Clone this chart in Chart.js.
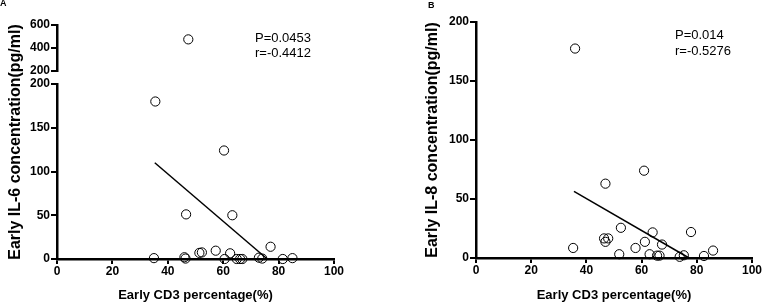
<!DOCTYPE html>
<html>
<head>
<meta charset="utf-8">
<script src="https://cdn.jsdelivr.net/npm/chart.js@4/dist/chart.umd.min.js"></script>
<style>
	html, body { margin: 0; padding: 0; background: #fff; }
	#wrap { position: relative; width: 762px; height: 303px; }
	.panel { position: absolute; top: 0; width: 381px; height: 303px; }
	#pa { left: 0; }
	#pb { left: 381px; }
</style>
</head>
<body>
<div id="wrap">
	<div class="panel" id="pa"><canvas id="chartA" width="381" height="303"></canvas></div>
	<div class="panel" id="pb"><canvas id="chartB" width="381" height="303"></canvas></div>
</div>
<script>
// Panel A: early CD3 % vs early IL-6 (pg/ml)
const cd3A = [35.0, 35.5, 46.0, 46.4, 46.6, 47.4, 51.4, 52.3, 57.3, 60.3, 60.5,
	62.5, 63.3, 64.9, 66.1, 66.9, 72.9, 74.1, 77.1, 81.5, 85.0];
const il6 = [1, 180, 2, 0.5, 51, 475, 7, 7.5, 9.5, 124, 0,
	6.5, 50, 0, 0, 0, 1.5, 0.5, 14, 0, 1];
const fitA_x = [35.3, 75.9];
const fitA_y = [110, 0];
const statsA = ["P=0.0453", "r=-0.4412"];

// Panel B: early CD3 % vs early IL-8 (pg/ml)
const cd3B = [35.2, 35.9, 46.4, 46.9, 46.9, 47.9, 51.9, 52.5, 57.8, 60.9, 61.2,
	62.9, 64.0, 65.6, 66.5, 67.4, 73.8, 75.3, 77.9, 82.6, 85.9];
const il8 = [8.5, 177.5, 16.6, 13.7, 63, 16.6, 3.2, 25.6, 8.5, 74, 13.7,
	3.2, 21.7, 2, 2, 11.4, 1, 2.3, 22, 1.7, 6.3];
const fitB_x = [35.5, 77.2];
const fitB_y = [56.4, 0];
const statsB = ["P=0.014", "r=-0.5276"];

const xTicks = [0, 20, 40, 60, 80, 100];
const yTicksLow = [0, 50, 100, 150, 200];
const yTicksHigh = [200, 400, 600];

const xTitle = "Early CD3 percentage(%)";
const yTitleA = "Early IL-6 concentration(pg/ml)";
const yTitleB = "Early IL-8 concentration(pg/ml)";

const FAMILY = '"Liberation Sans", Arial, Helvetica, sans-serif';

function pts(xs, ys, keep) {
	let out = [];
	xs.forEach((x, i) => {
		if (keep(ys[i])) out.push({ x: x, y: ys[i] });
	});
	return out;
}

function circles(data, axis) {
	let ds = {
		data: data,
		pointRadius: 4.6,
		pointBorderWidth: 1,
		pointBorderColor: "#000",
		pointBackgroundColor: "rgba(0,0,0,0)",
		showLine: false,
		clip: false,
	};
	if (axis) ds.yAxisID = axis;
	return ds;
}

function fitLine(xs, ys) {
	return {
		data: xs.map((x, i) => ({ x: x, y: ys[i] })),
		showLine: true,
		borderColor: "#000",
		borderWidth: 1.5,
		pointRadius: 0,
		clip: false,
	};
}

function valueAxis(ticks, extra) {
	return Object.assign({
		min: ticks[0],
		max: ticks[ticks.length - 1],
		ticks: { stepSize: ticks[1] - ticks[0], autoSkip: false, color: "#000", padding: 1, font: { family: FAMILY, size: 12, weight: "bold" } },
		grid: { drawOnChartArea: false, color: "#000", lineWidth: 2, tickLength: 6 },
		border: { color: "#000", width: 2.5 },
	}, extra);
}

function xAxis(height) {
	return {
		min: xTicks[0],
		max: xTicks[xTicks.length - 1],
		ticks: { stepSize: xTicks[1] - xTicks[0], autoSkip: false, maxRotation: 0, color: "#000", padding: 0, font: { family: FAMILY, size: 12, weight: "bold" } },
		grid: { drawOnChartArea: false, color: "#000", lineWidth: 2, tickLength: 5 },
		border: { color: "#000", width: 2.5 },
		title: { display: true, text: xTitle, color: "#000", padding: { top: 0, bottom: 0 }, font: { family: FAMILY, size: 13, weight: "bold" } },
		afterFit: (s) => { s.height = height; },
	};
}

// panel letter + P / r annotation
const panelText = {
	id: "panelText",
	beforeDraw(chart) {
		// make sure grid/border positions come from the final layout
		Object.values(chart.scales).forEach((s) => { s._gridLineItems = null; });
	},
	afterDraw(chart, args, o) {
		let ctx = chart.ctx;
		ctx.save();
		ctx.fillStyle = "#000";
		ctx.textAlign = "left";
		ctx.textBaseline = "middle";
		ctx.font = "bold 9px " + FAMILY;
		ctx.fillText(o.letter, o.letterX, o.letterY);
		ctx.font = "13px " + FAMILY;
		o.lines.forEach((t, i) => ctx.fillText(t, o.textX, o.textY + i * o.gap));
		ctx.restore();
	},
};

new Chart(document.getElementById("chartA"), {
	type: "scatter",
	data: {
		datasets: [
			circles(pts(cd3A, il6, (v) => v <= 200)),
			circles(pts(cd3A, il6, (v) => v > 200), "y2"),
			fitLine(fitA_x, fitA_y),
		],
	},
	options: {
		responsive: false,
		animation: false,
		devicePixelRatio: 1,
		layout: { padding: { left: 0, top: 25, right: 47, bottom: 0 } },
		scales: {
			x: xAxis(44),
			y: valueAxis(yTicksLow, { stack: "il6", stackWeight: 175, afterFit: (s) => { s.width = 33; } }),
			gap: { type: "linear", axis: "y", position: "left", display: false, min: 0, max: 1, stack: "il6", stackWeight: 13, afterFit: (s) => { s.width = 33; } },
			y2: valueAxis(yTicksHigh, { position: "left", stack: "il6", stackWeight: 46, afterFit: (s) => { s.width = 33; } }),
			ytitle: {
				position: "left", min: 0, max: 1,
				ticks: { display: false },
				grid: { display: false },
				border: { display: false },
				title: { display: true, text: yTitleA, color: "#000", padding: { top: 5.7, bottom: 0 }, font: { family: FAMILY, size: 16, weight: "bold" } },
				afterFit: (s) => { s.width = 24; },
			},
		},
		plugins: {
			legend: { display: false },
			tooltip: { enabled: false },
			panelText: { letter: "A", letterX: 0, letterY: 4, lines: statsA, textX: 255, textY: 38, gap: 15 },
		},
	},
	plugins: [panelText],
});

new Chart(document.getElementById("chartB"), {
	type: "scatter",
	data: {
		datasets: [
			circles(pts(cd3B, il8, () => true)),
			fitLine(fitB_x, fitB_y),
		],
	},
	options: {
		responsive: false,
		animation: false,
		devicePixelRatio: 1,
		layout: { padding: { left: 38, top: 22, right: 10, bottom: 0 } },
		scales: {
			x: xAxis(45),
			y: valueAxis(yTicksLow, {
				title: { display: true, text: yTitleB, color: "#000", padding: { top: 4, bottom: 0 }, font: { family: FAMILY, size: 16, weight: "bold" } },
				afterFit: (s) => { s.width = 57; },
			}),
		},
		plugins: {
			legend: { display: false },
			tooltip: { enabled: false },
			panelText: { letter: "B", letterX: 47, letterY: 5.5, lines: statsB, textX: 294, textY: 35, gap: 16 },
		},
	},
	plugins: [panelText],
});
</script>
</body>
</html>
